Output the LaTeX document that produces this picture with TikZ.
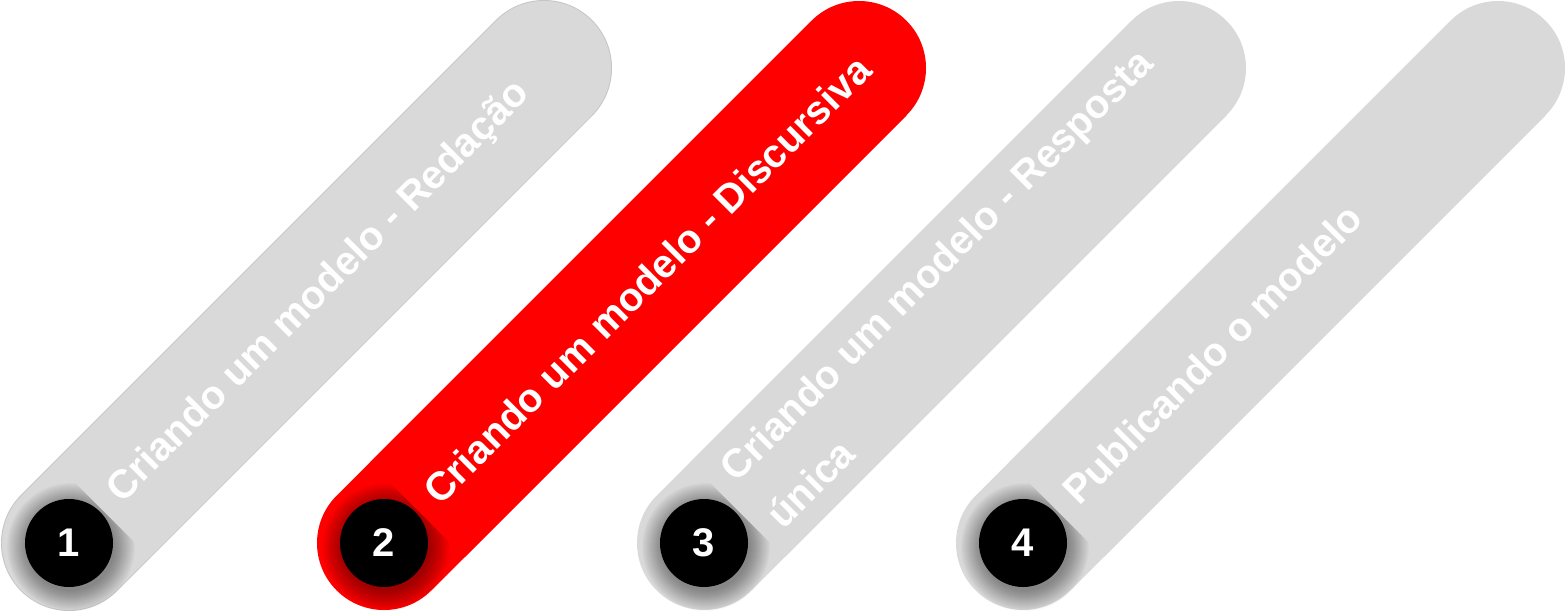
\documentclass[tikz,border=0pt]{standalone}
\usepackage{fontspec}
\setmainfont{Liberation Sans}
\usetikzlibrary{calc}
\definecolor{pillgray}{HTML}{D9D9D9}
\definecolor{pillrim}{HTML}{C6C6C6}
\definecolor{pillred}{HTML}{FF0000}
\newcommand{\PillW}{134pt}

\begin{document}
\begin{tikzpicture}[x=1pt, y=-1pt, font=\bfseries\fontsize{40}{66}\selectfont,
    pill/.style={line width=\PillW, line cap=round},
    band/.style={line width=\PillW},
    tag/.style={rotate=45, anchor=west, align=left, inner sep=0pt, text=white},
    badge/.style={circle, fill=black, minimum size=88pt, inner sep=0pt, text=white},
  ]
\useasboundingbox (0,0) rectangle (1567,611);

% --- Ends of each pill ----------------------------------------------------------
\foreach \i/\x in {1/69,2/384,3/704,4/1023} {
  \coordinate (base\i) at (\x,543);
  \coordinate (cut\i) at ($(base\i)+(33.2,-33.2)$);
  \coordinate (tip\i) at ($(base\i)+(475,-475)$);
}

% first pill has a thin rim
\draw[pill, line width=136pt, pillrim] (base1) -- (tip1);

% --- Pills, shadows, labels, numbers ----------------------------------------------
\foreach \i/\col/\txt in {1/pillgray/{Criando um modelo - Redação},
                          2/pillred/{Criando um modelo - Discursiva},
                          3/pillgray/{Criando um modelo - Resposta\\única},
                          4/pillgray/{Publicando o modelo}} {
  \draw[pill, \col] (base\i) -- (tip\i);
  \foreach \r in {44,45,...,64}
    \fill[black, opacity=0.018] ($(base\i)+(2,4)$) circle (\r);
  % the label band hides the shadow past the badge
  \draw[band, \col] (cut\i) -- (tip\i);
  \node[tag] (tag\i) at ($(base\i)+(46,-46)$) {\txt};
  \node[badge] (badge\i) at (base\i) {\i};
}
\end{tikzpicture}
\end{document}
